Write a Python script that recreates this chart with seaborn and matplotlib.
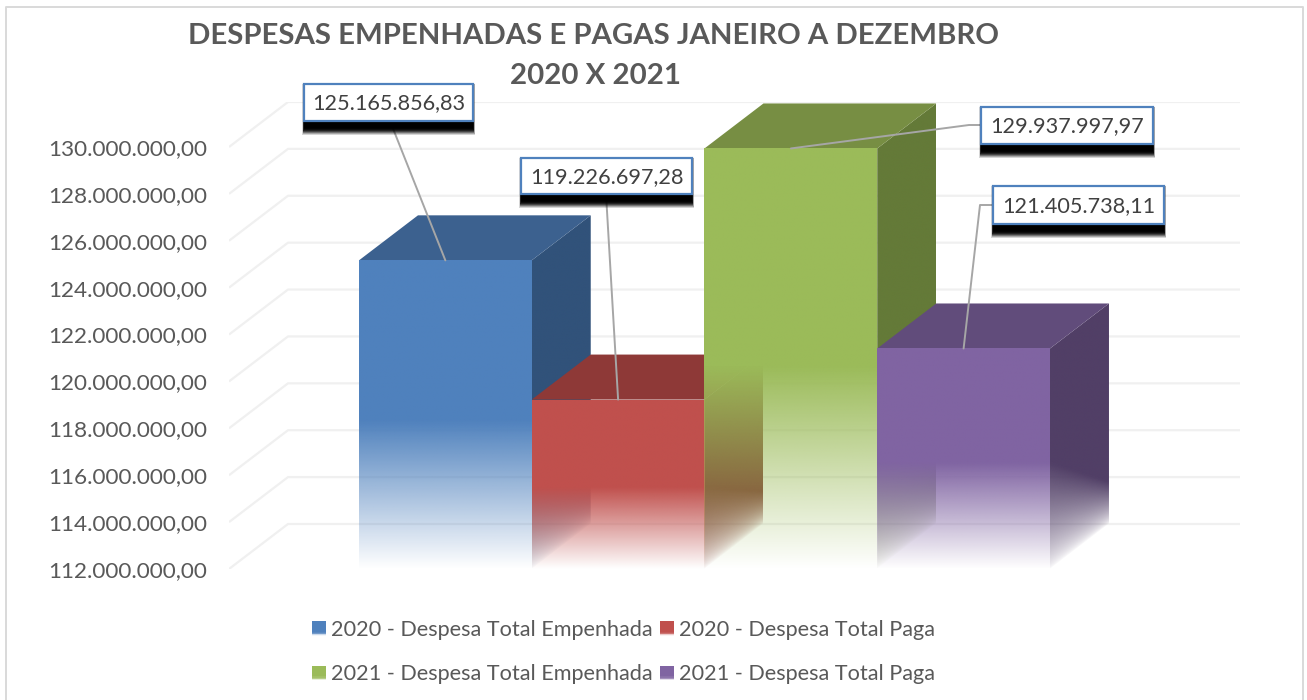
##----------- Import packages --------------##
import numpy as np
import pandas as pd
import seaborn as sns
import matplotlib
matplotlib.use("Agg")
import matplotlib.pyplot as plt
from matplotlib.colors import to_rgb
from matplotlib.legend_handler import HandlerBase
from matplotlib.lines import Line2D
from matplotlib.patches import Patch, Polygon, Rectangle
from matplotlib.transforms import Affine2D

##----------- Data --------------##
series = ["2020 - Despesa Total Empenhada", "2020 - Despesa Total Paga",
          "2021 - Despesa Total Empenhada", "2021 - Despesa Total Paga"]
values = [125165856.83, 119226697.28, 129937997.97, 121405738.11]
value_labels = ["125.165.856,83", "119.226.697,28", "129.937.997,97", "121.405.738,11"]
y_ticks = [112000000, 114000000, 116000000, 118000000, 120000000,
           122000000, 124000000, 126000000, 128000000, 130000000]
title_lines = ["DESPESAS EMPENHADAS E PAGAS JANEIRO A DEZEMBRO", "2020 X 2021"]

##----------- Styles --------------##
front_colors = ["#4F81BD", "#C0504D", "#9BBB59", "#8064A2"]
side_colors = ["#31527A", "#7E3432", "#647A38", "#513F66"]
top_colors = ["#3C618F", "#8E3937", "#778E43", "#614C7B"]
depth_x = 0.3415
depth_y = 1920000
y_min, y_max = 112000000, 131920000
x_min, x_max = -1.2525, 4.6
# callout boxes in picture pixels: left, top, right, bottom
boxes = [(304, 84, 473, 121), (521, 158, 692, 194), (981, 107, 1153, 144), (993, 186, 1164, 224)]
# where the leader leaves the box (last point before the bar)
leaders = [[(390, 121)], [(606, 194)], [(981, 125), (969, 125)], [(993, 205), (980, 205)]]
shadow_alpha = [0.16, 0.22, 0.30, 0.40, 0.50, 0.60, 0.75, 0.90]

sns.set_theme(style="white")
plt.rcParams['font.family'] = ['Lato', 'DejaVu Sans']

W, H = 1307, 700
fig = plt.figure(figsize=(W / 100, H / 100), dpi=100, facecolor="white")
pix = Affine2D().scale(1, -1).translate(0, H)  # picture pixels, y going down
ax = fig.add_axes([229 / W, (H - 569) / H, (1240 - 229) / W, (569 - 102) / H])

##----------- Bars --------------##
data = pd.DataFrame({"serie": series, "valor": values})
sns.barplot(data=data, x="serie", y="valor", hue="serie", palette=front_colors,
            width=1, legend=False, ax=ax)
ax.set_xlim(x_min, x_max)
ax.set_ylim(y_min, y_max)
ax.autoscale(False)
ax.set_xlabel("")
ax.set_ylabel("")
ax.set_xticks([])
ax.set_yticks(y_ticks)
ax.set_yticklabels([f"{t:,.2f}".replace(",", "X").replace(".", ",").replace("X", ".") for t in y_ticks],
                   fontsize=16.2, color="#595959")
ax.tick_params(axis="y", length=0, pad=15.5)
sns.despine(ax=ax, left=True, bottom=True)
ax.patch.set_alpha(0)


def faded_face(color, x0, x1, base, value, shift, clip, zorder, fade_back, power=1.0):
    # gradient fill of one face, solid on top and going to nothing at the base
    cols, rows = 120, 500
    u = np.linspace(0, 1, cols)[None, :]
    y = np.linspace(base, value + shift, rows)[:, None]
    fade = (0.48 + (fade_back - 0.48) * u) * (value - base)
    alpha = np.clip((y - (base + u * shift)) / fade, 0, 1) ** power
    img = np.ones((rows, cols, 4))
    img[..., :3] = to_rgb(color)
    img[..., 3] = alpha
    im = ax.imshow(img, extent=(x0, x1, base, value + shift), origin="lower",
                   aspect="auto", interpolation="bilinear", zorder=zorder)
    im.set_clip_path(clip)


# back wall grid with the diagonal floor lines
for t in y_ticks:
    ax.plot([x_min, x_min + depth_x, x_max], [t, t + depth_y, t + depth_y],
            color="#F0F0F0", lw=1.6, zorder=1, solid_capstyle="butt")

for i, bar in enumerate(ax.patches):
    x0 = bar.get_x()
    x1 = x0 + bar.get_width()
    val = bar.get_height()
    z = 2 + 3 * i
    side = Polygon([(x1, y_min), (x1 + depth_x, y_min + depth_y), (x1 + depth_x, val + depth_y), (x1, val)],
                   closed=True, fc="none", ec="none", transform=ax.transData)
    ax.add_patch(side)
    faded_face(side_colors[i], x1, x1 + depth_x, y_min, val, depth_y, side, z, 0.19, power=0.7)
    ax.add_patch(Polygon([(x0, val), (x0 + depth_x, val + depth_y), (x1 + depth_x, val + depth_y), (x1, val)],
                         closed=True, fc=top_colors[i], ec="none", zorder=z + 1))
    bar.set_facecolor("none")
    bar.set_edgecolor("none")
    faded_face(front_colors[i], x0, x1, y_min, val, 0, bar, z + 2, 0.48)

##----------- Callouts --------------##
for i, (left, top, right, bottom) in enumerate(boxes):
    anchor = ax.transData.transform((i, values[i]))
    end = (anchor[0], H - anchor[1])
    pts = leaders[i] + [end]
    fig.add_artist(Line2D([p[0] for p in pts], [p[1] for p in pts], transform=pix,
                          color="#A6A6A6", lw=1.4, zorder=3))
    # soft black shadow under the box
    for k, a in enumerate(shadow_alpha):
        grow = len(shadow_alpha) - 1 - k
        fig.add_artist(Rectangle((left - 0.25 * grow, top), right - left + 0.5 * grow, bottom - top + 7 + grow,
                                 transform=pix, fc="black", ec="none", alpha=a, zorder=4))
    fig.add_artist(Rectangle((left, top), right - left, bottom - top, transform=pix,
                             fc="white", ec="#4F81BD", lw=1.6, zorder=5))
    fig.text((left + right) / 2, (top + bottom) / 2 + 1, value_labels[i], transform=pix, ha="center",
             va="center", fontsize=15.6, color="#404040", zorder=6)


##----------- Legend --------------##
class FadeHandler(HandlerBase):
    def create_artists(self, legend, orig_handle, xdescent, ydescent, width, height, fontsize, trans):
        color = orig_handle.get_facecolor()
        steps = 14
        out = [Rectangle((0, height * 0.3), width, height * 0.7, fc=color, ec="none", transform=trans)]
        for s in range(steps):
            out.append(Rectangle((0, height * 0.3 * s / steps), width, height * 0.3 / steps + 0.1,
                                 fc=color, ec="none", alpha=(s + 1) / steps, transform=trans))
        return out


# legend fills column by column, the picture reads row by row
order = [0, 2, 1, 3]
handles = [Patch(facecolor=front_colors[j], label=series[j]) for j in order]
fig.legend(handles=handles, handler_map={Patch: FadeHandler()}, ncols=2, frameon=False, fontsize=15.6,
           labelcolor="#595959", loc="center left", bbox_to_anchor=(312 / W, (H - 652) / H),
           handlelength=0.64, handleheight=0.64, handletextpad=0.23, columnspacing=0.37,
           labelspacing=1.14, borderpad=0, borderaxespad=0)

##----------- Title and frame --------------##
fig.text(593, 36, title_lines[0], transform=pix, ha="center", va="center", fontsize=21.2,
         fontweight="bold", color="#595959", zorder=6)
fig.text(596, 76, title_lines[1], transform=pix, ha="center", va="center", fontsize=21.2,
         fontweight="bold", color="#595959", zorder=6)
fig.add_artist(Line2D([6, 6, 1303, 1303], [H + 5, 7, 7, H + 5], transform=pix, color="#D9D9D9", lw=1.4, zorder=1))

plt.savefig("out.png", dpi=100)
plt.close()
